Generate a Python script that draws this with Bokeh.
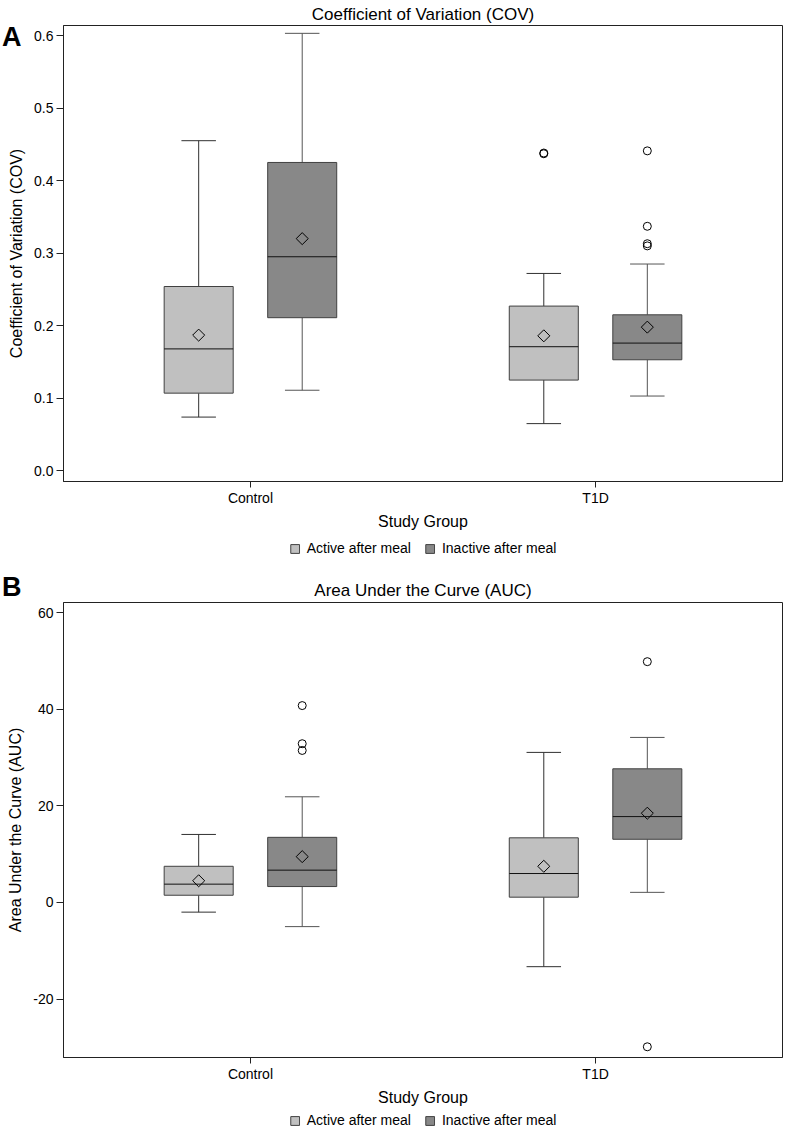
from bokeh.plotting import figure
from bokeh.models import (ColumnDataSource, FactorRange, Range1d, FixedTicker,
                          PrintfTickFormatter, Legend, LegendItem, Div)
from bokeh.transform import dodge
from bokeh.layouts import column
from bokeh.embed import file_html
from bokeh.resources import INLINE

# ---------------- data ----------------
groups = ["Control", "T1D"]
conditions = ["Active after meal", "Inactive after meal"]

box_group = ["Control", "Control", "T1D", "T1D"]
box_condition = ["Active after meal", "Inactive after meal",
                 "Active after meal", "Inactive after meal"]

# Panel A: Coefficient of Variation
cov_q1 = [0.107, 0.211, 0.125, 0.153]
cov_median = [0.168, 0.295, 0.171, 0.176]
cov_q3 = [0.254, 0.425, 0.227, 0.215]
cov_whisker_low = [0.074, 0.111, 0.065, 0.103]
cov_whisker_high = [0.455, 0.603, 0.272, 0.285]
cov_mean = [0.187, 0.320, 0.186, 0.198]
cov_outlier_group = ["T1D", "T1D", "T1D", "T1D", "T1D", "T1D"]
cov_outlier_condition = ["Active after meal", "Active after meal",
                         "Inactive after meal", "Inactive after meal",
                         "Inactive after meal", "Inactive after meal"]
cov_outlier_value = [0.437, 0.438, 0.441, 0.337, 0.313, 0.310]
cov_ticks = [0.0, 0.1, 0.2, 0.3, 0.4, 0.5, 0.6]

# Panel B: Area Under the Curve
auc_q1 = [1.5, 3.3, 1.1, 13.1]
auc_median = [3.8, 6.7, 6.0, 17.8]
auc_q3 = [7.5, 13.5, 13.4, 27.7]
auc_whisker_low = [-2.0, -5.0, -13.3, 2.1]
auc_whisker_high = [14.1, 21.9, 31.1, 34.2]
auc_mean = [4.5, 9.5, 7.5, 18.5]
auc_outlier_group = ["Control", "Control", "Control", "T1D", "T1D"]
auc_outlier_condition = ["Inactive after meal"] * 5
auc_outlier_value = [40.8, 32.9, 31.5, 49.9, -29.9]
auc_ticks = [-20, 0, 20, 40, 60]

# ---------------- style ----------------
FONT = "Liberation Sans"
FILL = {"Active after meal": "#c0c0c0", "Inactive after meal": "#888888"}
WHISKER = {"Active after meal": "#303030", "Inactive after meal": "#555555"}
OFFSET = {"Active after meal": -0.15, "Inactive after meal": 0.15}
BOX_W = 0.2
CAP_HALF = 0.05
LEFT, RIGHT = 63, 3


def make_panel(title, ylabel, y_range, ticks, fmt,
               q1, med, q3, wlo, whi, mean, og, oc, ov,
               height, border_top, border_bottom, title_standoff):
    p = figure(width=785, height=height,
               x_range=FactorRange(*groups, range_padding=0.0417,
                                   range_padding_units="absolute"),
               y_range=Range1d(*y_range),
               output_backend="svg", toolbar_location=None,
               min_border_left=LEFT, min_border_right=RIGHT,
               min_border_top=border_top, min_border_bottom=border_bottom,
               title=title)
    p.title.align = "center"
    p.title.text_font = FONT
    p.title.text_font_size = "17px"
    p.title.text_font_style = "normal"
    p.title.text_color = "black"
    p.title.standoff = title_standoff
    p.xgrid.visible = False
    p.ygrid.visible = False
    p.outline_line_color = "#222222"
    p.outline_line_width = 1
    p.background_fill_color = "white"

    for ax in (p.xaxis[0], p.yaxis[0]):
        ax.axis_line_color = "#222222"
        ax.major_tick_line_color = "#222222"
        ax.major_tick_in = 0
        ax.minor_tick_line_color = None
        ax.major_label_text_font = FONT
        ax.major_label_text_font_size = "14px"
        ax.major_label_text_color = "black"
        ax.axis_label_text_font = FONT
        ax.axis_label_text_font_style = "normal"
        ax.axis_label_text_font_size = "16px"
        ax.axis_label_text_color = "black"

    p.xaxis.axis_label = "Study Group"
    p.xaxis.major_tick_out = 6
    p.xaxis.major_label_standoff = 2
    p.xaxis.axis_label_standoff = 4

    p.yaxis.axis_label = ylabel
    p.yaxis.major_tick_out = 7
    p.yaxis.major_label_standoff = 3
    p.yaxis.axis_label_standoff = 6
    p.yaxis.ticker = FixedTicker(ticks=ticks)
    p.yaxis.formatter = PrintfTickFormatter(format=fmt)

    for cond in conditions:
        idx = [i for i, c in enumerate(box_condition) if c == cond]
        src = ColumnDataSource(dict(
            group=[box_group[i] for i in idx],
            q1=[q1[i] for i in idx], med=[med[i] for i in idx],
            q3=[q3[i] for i in idx], wlo=[wlo[i] for i in idx],
            whi=[whi[i] for i in idx], mean=[mean[i] for i in idx]))
        off = OFFSET[cond]
        xc = dodge("group", off, range=p.x_range)
        xl = dodge("group", off - CAP_HALF, range=p.x_range)
        xr = dodge("group", off + CAP_HALF, range=p.x_range)
        bl = dodge("group", off - BOX_W / 2, range=p.x_range)
        br = dodge("group", off + BOX_W / 2, range=p.x_range)
        wc = WHISKER[cond]
        p.segment(x0=xc, y0="q3", x1=xc, y1="whi", source=src, line_color=wc, line_width=1)
        p.segment(x0=xc, y0="q1", x1=xc, y1="wlo", source=src, line_color=wc, line_width=1)
        p.segment(x0=xl, y0="whi", x1=xr, y1="whi", source=src, line_color=wc, line_width=1)
        p.segment(x0=xl, y0="wlo", x1=xr, y1="wlo", source=src, line_color=wc, line_width=1)
        p.vbar(x=xc, width=BOX_W, top="q3", bottom="q1", source=src,
               fill_color=FILL[cond], line_color="#404040", line_width=1)
        p.segment(x0=bl, y0="med", x1=br, y1="med", source=src, line_color="#111111", line_width=1)
        p.scatter(x=xc, y="mean", source=src, marker="square", angle=0.7854, size=8.5,
                  fill_color=None, line_color="black", line_width=1)
        oidx = [i for i, c in enumerate(oc) if c == cond]
        if oidx:
            osrc = ColumnDataSource(dict(group=[og[i] for i in oidx],
                                         value=[ov[i] for i in oidx]))
            p.scatter(x=dodge("group", off, range=p.x_range), y="value", source=osrc,
                      marker="circle", size=8, fill_color=None,
                      line_color="black", line_width=1)
    return p


def make_legend_strip(height):
    lf = figure(width=785, height=height, x_range=Range1d(0, 1), y_range=Range1d(0, 1),
                output_backend="svg", toolbar_location=None,
                x_axis_location=None, y_axis_location=None,
                min_border_left=LEFT, min_border_right=RIGHT,
                min_border_top=0, min_border_bottom=0)
    lf.xgrid.visible = False
    lf.ygrid.visible = False
    lf.outline_line_color = None
    items = []
    for cond in conditions:
        # legend proxy glyph, placed outside the visible range
        r = lf.vbar(x=[-5], top=[-5], bottom=[-6], width=0.1,
                    fill_color=FILL[cond], line_color="#404040", line_width=1)
        items.append(LegendItem(label=cond, renderers=[r]))
    legend = Legend(items=items, orientation="horizontal", location="center",
                    label_text_font=FONT, label_text_font_size="14px",
                    label_text_color="black",
                    glyph_width=11, glyph_height=11, label_standoff=7,
                    spacing=13, padding=0, margin=0, label_height=14,
                    border_line_color=None, background_fill_alpha=0)
    lf.add_layout(legend)
    return lf


def letter_div(letter, top):
    return Div(text=letter, width=24, height=28,
               styles={"position": "absolute", "left": "2px", "top": f"{top}px",
                       "font-family": FONT, "font-size": "27px", "font-weight": "bold",
                       "line-height": "1", "color": "black", "margin": "0",
                       "padding": "0", "z-index": "10"})


p1 = make_panel("Coefficient of Variation (COV)", "Coefficient of Variation (COV)",
                (-0.0148, 0.6138), cov_ticks, "%.1f",
                cov_q1, cov_median, cov_q3, cov_whisker_low, cov_whisker_high, cov_mean,
                cov_outlier_group, cov_outlier_condition, cov_outlier_value,
                height=532, border_top=25, border_bottom=50, title_standoff=3)
l1 = make_legend_strip(32)

p2 = make_panel("Area Under the Curve (AUC)", "Area Under the Curve (AUC)",
                (-32.12, 62.16), auc_ticks, "%d",
                auc_q1, auc_median, auc_q3, auc_whisker_low, auc_whisker_high, auc_mean,
                auc_outlier_group, auc_outlier_condition, auc_outlier_value,
                height=544, border_top=38, border_bottom=50, title_standoff=6)
l2 = make_legend_strip(24)

layout = column(letter_div("A", 24), letter_div("B", 574), p1, l1, p2, l2)

open("out.html", "w").write(file_html(layout, INLINE))
